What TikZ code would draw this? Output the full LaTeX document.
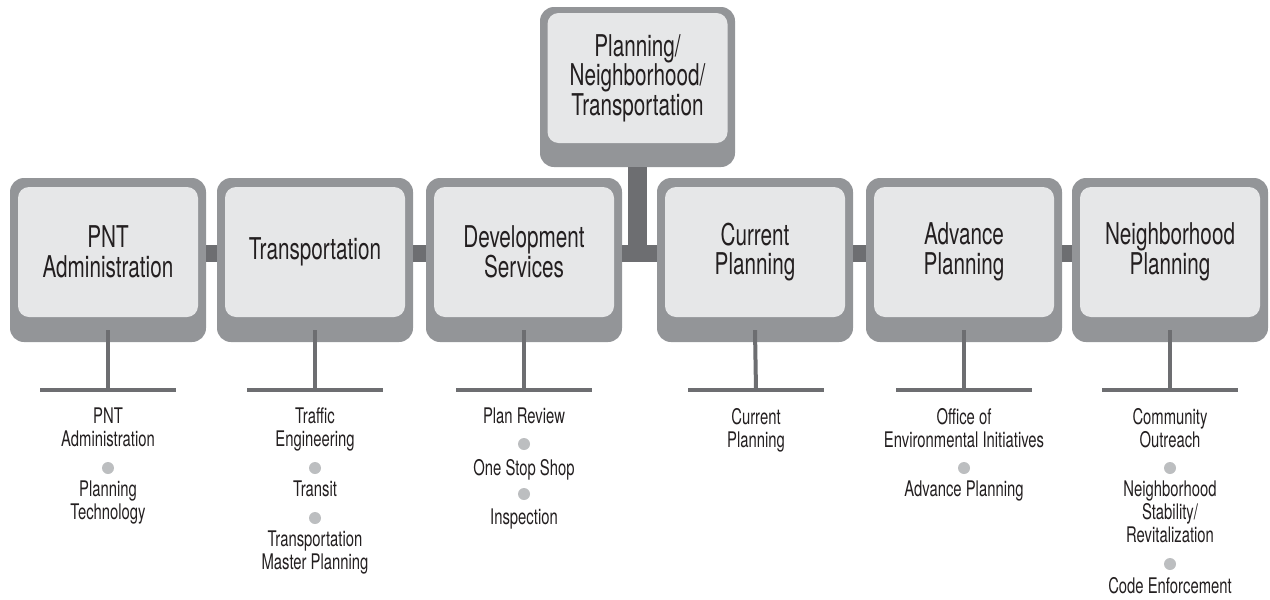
\documentclass[tikz,border=0pt]{standalone}
\usepackage{fontspec}
\setmainfont{TeX Gyre Heros}[FakeStretch=0.69]
\definecolor{frameGray}{HTML}{939598}
\definecolor{faceGray}{HTML}{E6E7E8}
\definecolor{barGray}{HTML}{6D6E71}
\definecolor{dotGray}{HTML}{BCBEC0}
\definecolor{ink}{HTML}{231F20}
\tikzset{
  frame/.style = {fill=frameGray, rounded corners=14pt, minimum width=196pt, minimum height=164pt, inner sep=0pt},
  face/.style = {fill=faceGray, rounded corners=11pt, minimum width=180pt, minimum height=130pt, inner sep=0pt, align=center, text=ink, font=\fontsize{30}{29.5}\selectfont},
  item/.style = {anchor=north, inner sep=0pt, align=center, text=ink, font=\fontsize{21.5}{23}\selectfont},
  bullet/.style = {circle, fill=dotGray, minimum size=12pt, inner sep=0pt},
  stem/.style = {draw=barGray, line width=4pt},
  bus/.style = {draw=barGray, line width=17pt}
}

\begin{document}
\begin{tikzpicture}[x=1pt, y=-1pt]
\useasboundingbox (0,0) rectangle (1270,600);

% frames
\node [frame, minimum width=195pt, minimum height=160pt] (plnF) at (637.5, 87) {};
\node [frame] (admF) at (108, 260) {};
\node [frame] (traF) at (315, 260) {};
\node [frame] (devF) at (524, 260) {};
\node [frame] (curF) at (755, 260) {};
\node [frame] (advF) at (964, 260) {};
\node [frame] (nbhF) at (1170, 260) {};

% bus between the boxes
\draw [bus] ([yshift=6.5pt]admF.east) -- ([yshift=6.5pt]traF.west);
\draw [bus] ([yshift=6.5pt]traF.east) -- ([yshift=6.5pt]devF.west);
\draw [bus] ([yshift=6.5pt]devF.east) -- ([yshift=6.5pt]curF.west);
\draw [bus] ([yshift=6.5pt]curF.east) -- ([yshift=6.5pt]advF.west);
\draw [bus] ([yshift=6.5pt]advF.east) -- ([yshift=6.5pt]nbhF.west);
\draw [bus, line width=19pt] (plnF.south) -- ([yshift=-2pt]plnF.south |- devF.east);

% faces
\node [face] (pln) at (637.5, 78) {Planning/\\Neighborhood/\\Transportation};
\node [face] (adm) at (108, 252) {PNT\\Administration};
\node [face] (tra) at (315, 252) {Transportation};
\node [face] (dev) at (524, 252) {Development\\Services};
\node [face] (cur) at (755, 252) {Current\\Planning};
\node [face] (adv) at (964, 252) {Advance\\Planning};
\node [face] (nbh) at (1170, 252) {Neighborhood\\Planning};

% stems and tees
\coordinate (admT) at (108, 390);
\coordinate (traT) at (315, 390);
\coordinate (devT) at (524, 390);
\coordinate (curT) at (756, 390);
\coordinate (advT) at (964, 390);
\coordinate (nbhT) at (1170, 390);
\draw [stem] ([yshift=12pt]admF.south) -- (admT);
\draw [stem] ([yshift=12pt]traF.south) -- (traT);
\draw [stem] ([yshift=12pt]devF.south) -- (devT);
\draw [stem] ([yshift=12pt]curF.south) -- (curT);
\draw [stem] ([yshift=12pt]advF.south) -- (advT);
\draw [stem] ([yshift=12pt]nbhF.south) -- (nbhT);
\draw [stem] ([xshift=-68pt]admT) -- ([xshift=68pt]admT);
\draw [stem] ([xshift=-68pt]traT) -- ([xshift=68pt]traT);
\draw [stem] ([xshift=-68pt]devT) -- ([xshift=68pt]devT);
\draw [stem] ([xshift=-68pt]curT) -- ([xshift=68pt]curT);
\draw [stem] ([xshift=-68pt]advT) -- ([xshift=68pt]advT);
\draw [stem] ([xshift=-68pt]nbhT) -- ([xshift=68pt]nbhT);

% PNT Administration
\node [item] (adm1) at (108, 408) {PNT\\Administration};
\node [bullet] (admD1) at (108, 468) {};
\node [item] (adm2) at (108, 481) {Planning\\Technology};

% Transportation
\node [item] (tra1) at (315, 408) {Traffic\\Engineering};
\node [bullet] (traD1) at (315, 468) {};
\node [item] (tra2) at (315, 481) {Transit};
\node [bullet] (traD2) at (315, 518) {};
\node [item] (tra3) at (315, 531) {Transportation\\Master Planning};

% Development Services
\node [item] (dev1) at (524, 408) {Plan Review};
\node [bullet] (devD1) at (524, 444) {};
\node [item] (dev2) at (524, 459) {One Stop Shop};
\node [bullet] (devD2) at (524, 494) {};
\node [item] (dev3) at (524, 509) {Inspection};

% Current Planning
\node [item] (cur1) at (756, 408) {Current\\Planning};

% Advance Planning
\node [item] (adv1) at (964, 408) {Office of\\Environmental Initiatives};
\node [bullet] (advD1) at (964, 468) {};
\node [item] (adv2) at (964, 481) {Advance Planning};

% Neighborhood Planning
\node [item] (nbh1) at (1170, 408) {Community\\Outreach};
\node [bullet] (nbhD1) at (1170, 468) {};
\node [item] (nbh2) at (1170, 481) {Neighborhood\\Stability/\\Revitalization};
\node [bullet] (nbhD2) at (1170, 564) {};
\node [item] (nbh3) at (1170, 577) {Code Enforcement};
\end{tikzpicture}
\end{document}
